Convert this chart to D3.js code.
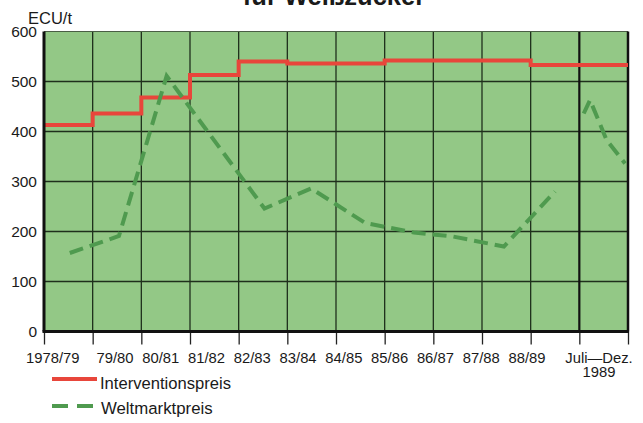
<!DOCTYPE html>
<html>
<head>
<meta charset="utf-8">
<script src="https://cdn.jsdelivr.net/npm/d3@7"></script>
<style>
  body { margin: 0; background: #fff; }
  text { font-family: 'Liberation Sans', Arial, sans-serif; fill: #1a1a1a; }
</style>
</head>
<body>
<div id="chart"></div>
<script>
// Wirtschaftsjahre (last column = half year)
const periods = ['1978/79', '79/80', '80/81', '81/82', '82/83', '83/84', '84/85', '85/86', '86/87', '87/88', '88/89', 'Juli—Dez.|1989']

// Interventionspreis, ECU/t, one value per period
const interventionspreis = [413, 436, 468, 513, 540, 536, 536, 542, 542, 542, 533, 533]

// Weltmarktpreis, ECU/t, position in periods (null = gap in the line)
const weltmarktZeit = [0.53, 1.54, 2.52, 4.53, 5.49, 6.6, 7.6, 8.4, 9.45, 10.5, 10.8, 11.09, 11.22, 11.56, 11.94]
const weltmarktpreis = [157, 191, 511, 246, 286, 217, 198, 190, 170, 280, null, 436, 463, 383, 336]

const yTicks = [0, 100, 200, 300, 400, 500, 600]

const margin = { top: 31.5, left: 44, right: 15, bottom: 91.5 }
const width = 643 - margin.left - margin.right
const height = 423 - margin.top - margin.bottom

const svg = d3
  .select('#chart')
  .append('svg')
  .attr('width', 643)
  .attr('height', 423)

const g = svg
  .append('g')
  .attr('transform', 'translate(' + margin.left + ',' + margin.top + ')')

const xPositionScale = d3.scaleLinear().domain([0, periods.length]).range([0, width])
const yPositionScale = d3.scaleLinear().domain([0, 600]).range([height, 0])

// title, cut off at the top
svg
  .append('text')
  .attr('x', 334)
  .attr('y', 4.5)
  .attr('text-anchor', 'middle')
  .attr('font-size', 25.5)
  .attr('font-weight', 'bold')
  .text('für Weißzucker')

svg
  .append('text')
  .attr('x', 28)
  .attr('y', 24)
  .attr('font-size', 16.5)
  .text('ECU/t')

// green plot area
g.append('rect')
  .attr('width', width)
  .attr('height', height)
  .attr('fill', '#93c886')

// grid
g.selectAll('.hgrid')
  .data(yTicks.slice(1, -1))
  .enter()
  .append('line')
  .attr('class', 'hgrid')
  .attr('x1', 0)
  .attr('x2', width)
  .attr('y1', d => yPositionScale(d))
  .attr('y2', d => yPositionScale(d))
  .attr('stroke', '#1f2f1c')
  .attr('stroke-width', 1.3)

g.selectAll('.vgrid')
  .data(d3.range(1, periods.length))
  .enter()
  .append('line')
  .attr('class', 'vgrid')
  .attr('x1', d => xPositionScale(d))
  .attr('x2', d => xPositionScale(d))
  .attr('y1', 0)
  .attr('y2', height)
  .attr('stroke', d => (d === periods.length - 1 ? '#111' : '#1f2f1c'))
  .attr('stroke-width', d => (d === periods.length - 1 ? 2.2 : 1.3))

// top + right border
g.append('line')
  .attr('x1', 0)
  .attr('x2', width)
  .attr('y1', 0)
  .attr('y2', 0)
  .attr('stroke', '#4a5e45')
  .attr('stroke-width', 1)
g.append('line')
  .attr('x1', width)
  .attr('x2', width)
  .attr('y1', 0)
  .attr('y2', height)
  .attr('stroke', '#111')
  .attr('stroke-width', 2.5)

// interventionspreis as steps
const stepData = interventionspreis.map((v, i) => ({ t: i, v: v }))
stepData.push({ t: periods.length, v: interventionspreis[interventionspreis.length - 1] })

const stepLine = d3
  .line()
  .x(d => xPositionScale(d.t))
  .y(d => yPositionScale(d.v))
  .curve(d3.curveStepAfter)

g.append('path')
  .datum(stepData)
  .attr('d', stepLine)
  .attr('fill', 'none')
  .attr('stroke', '#e8463b')
  .attr('stroke-width', 4)

// weltmarktpreis dashed
const weltData = weltmarktZeit.map((t, i) => ({ t: t, v: weltmarktpreis[i] }))

const weltLine = d3
  .line()
  .defined(d => d.v !== null)
  .x(d => xPositionScale(d.t))
  .y(d => yPositionScale(d.v))

g.append('path')
  .datum(weltData)
  .attr('d', weltLine)
  .attr('fill', 'none')
  .attr('stroke', '#4f9a4f')
  .attr('stroke-width', 4)
  .attr('stroke-dasharray', '14,7')

// axes
const xAxis = d3
  .axisBottom(xPositionScale)
  .tickValues(d3.range(0, periods.length + 1))
  .tickSize(13)
  .tickFormat('')
g.append('g')
  .attr('class', 'axis x-axis')
  .attr('transform', 'translate(0,' + height + ')')
  .call(xAxis)
g.select('.x-axis .domain').remove()
g.selectAll('.x-axis .tick line').attr('stroke', '#222').attr('stroke-width', 1.3)

g.append('line')
  .attr('x1', -1.5)
  .attr('x2', width + 1)
  .attr('y1', height)
  .attr('y2', height)
  .attr('stroke', '#111')
  .attr('stroke-width', 3)
g.append('line')
  .attr('x1', 0)
  .attr('x2', 0)
  .attr('y1', 0)
  .attr('y2', height)
  .attr('stroke', '#111')
  .attr('stroke-width', 3)

const yAxis = d3
  .axisLeft(yPositionScale)
  .tickValues(yTicks)
  .tickSize(0)
  .tickPadding(7)
g.append('g')
  .attr('class', 'axis y-axis')
  .call(yAxis)
g.select('.y-axis .domain').remove()
g.selectAll('.y-axis text')
  .attr('font-size', 15.5)
  .attr('font-family', "'Liberation Sans', Arial, sans-serif")
  .attr('fill', '#1a1a1a')

// period labels, set a little tighter than the columns
const labelX = d3.scaleLinear().domain([1, 10]).range([xPositionScale(1) + 22.3, xPositionScale(10) - 3.7])
const labels = g
  .selectAll('.period')
  .data(periods)
  .enter()
  .append('text')
  .attr('class', 'period')
  .attr('font-size', 14.8)
  .attr('text-anchor', (d, i) => (i === 0 ? 'start' : 'middle'))
  .attr('transform', (d, i) => {
    let x = labelX(i)
    if (i === 0) x = xPositionScale(0) - 18
    if (i === periods.length - 1) x = xPositionScale(i + 0.5) - 4.7
    return 'translate(' + x + ',' + (height + 31) + ')'
  })
labels
  .selectAll('tspan')
  .data(d => d.split('|'))
  .enter()
  .append('tspan')
  .attr('x', 0)
  .attr('dy', (d, i) => (i === 0 ? 0 : 14.5))
  .text(d => d)

// legend
const legend = svg.append('g').attr('transform', 'translate(52,0)')
legend
  .append('line')
  .attr('x1', 0)
  .attr('x2', 45)
  .attr('y1', 379)
  .attr('y2', 379)
  .attr('stroke', '#e8463b')
  .attr('stroke-width', 4)
legend
  .append('text')
  .attr('x', 48)
  .attr('y', 388.5)
  .attr('font-size', 16.6)
  .text('Interventionspreis')
legend
  .append('line')
  .attr('x1', 0)
  .attr('x2', 45)
  .attr('y1', 406)
  .attr('y2', 406)
  .attr('stroke', '#4f9a4f')
  .attr('stroke-width', 4)
  .attr('stroke-dasharray', '16,9')
legend
  .append('text')
  .attr('x', 49)
  .attr('y', 414)
  .attr('font-size', 16.8)
  .text('Weltmarktpreis')
</script>
</body>
</html>
